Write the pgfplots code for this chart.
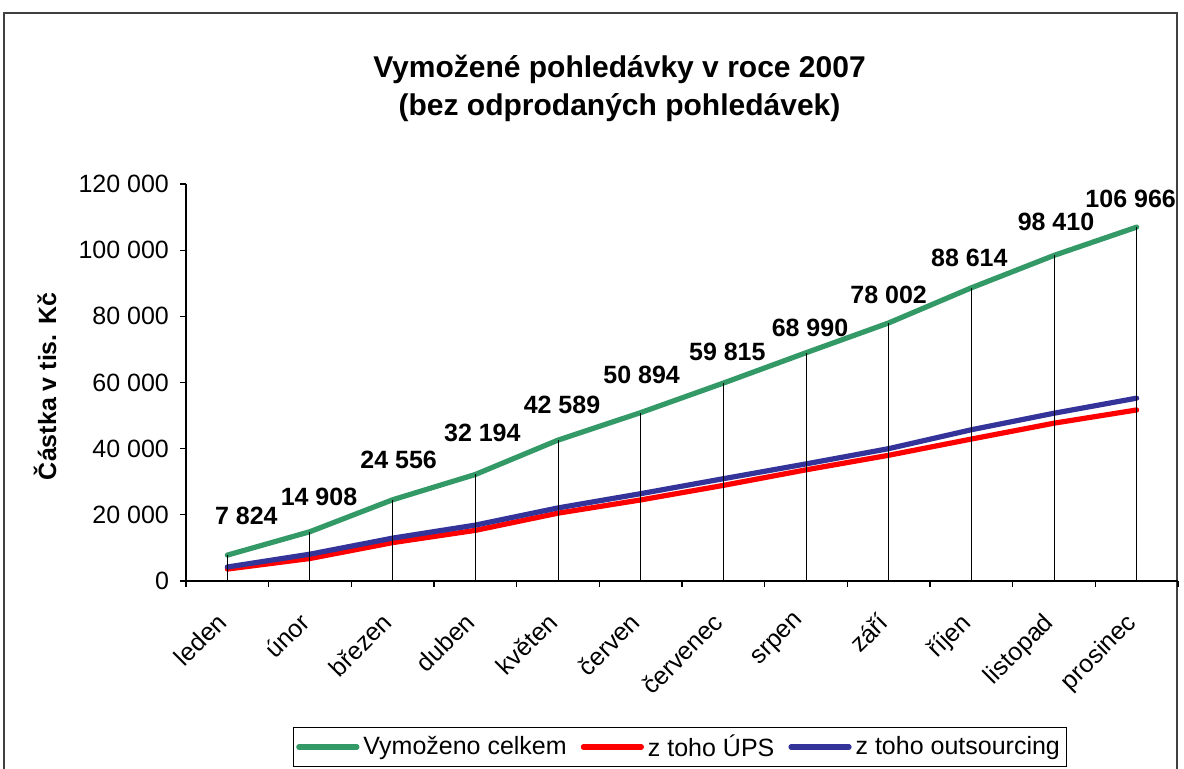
\documentclass[border=0pt]{standalone}
\usepackage{fontspec}
\setmainfont{Liberation Sans}
\usepackage{pgfplots}
\usepackage{pgfplotstable}
\pgfplotsset{compat=1.18}
\definecolor{cgreen}{RGB}{51,153,102}
\definecolor{cred}{RGB}{255,0,0}
\definecolor{cblue}{RGB}{51,51,153}
\pgfplotstableread{
x green red blue dx dy
0 7824 3600 4224 9.5 19.5
1 14908 6800 8108 4.5 17.5
2 24556 11600 12956 3 20
3 32194 15300 16894 3.5 21
4 42589 20500 22089 2 17.5
5 50894 24500 26394 0.5 19
6 59815 28900 30915 2 15.5
7 68990 33600 35390 2 12.5
8 78002 38000 40002 0 14
9 88614 42900 45714 -1 15
10 98410 47700 50710 1 17
11 106966 51700 55266 -3 14
}\data
\begin{document}
\begin{tikzpicture}
\clip (-93pt,-94pt) rectangle (499pt,290.5pt);
\draw[line width=0.9pt, black!75] (-91pt,-120pt) -- (-91pt,284pt) -- (495.5pt,284pt) -- (495.5pt,-120pt);
\begin{axis}[
  at={(0,0)}, anchor=south west,
  scale only axis, width=496pt, height=198.5pt,
  xmin=-0.5, xmax=11.5, ymin=0, ymax=120000,
  clip=false,
  axis lines*=left, axis line style={-, black, line width=0.6pt},
  tick align=outside, major tick length=3pt,
  tick style={black, line width=0.6pt},
  xtick={-0.5,0.5,...,11.5},
  x tick label as interval,
  xticklabels={leden,únor,březen,duben,květen,červen,červenec,srpen,září,říjen,listopad,prosinec},
  xticklabel style={xshift=-6pt, yshift=-10.5pt, rotate=45, anchor=north east, font=\fontsize{12.5}{14}\selectfont, inner sep=1pt},
  ytick={0,20000,...,120000},
  scaled y ticks=false,
  yticklabel style={font=\fontsize{12.5}{14}\selectfont, xshift=-2pt},
  /pgf/number format/.cd, 1000 sep={\ }, assume math mode=true, fixed, precision=0,
  /pgfplots/.cd,
  title={Vymožené pohledávky v roce 2007\\(bez odprodaných pohledávek)},
  title style={at={(axis description cs:0.437,1.211)}, anchor=center, align=center, font=\bfseries\fontsize{15}{19}\selectfont},
  ylabel={Částka v tis. Kč},
  ylabel style={at={(axis description cs:-0.142,0.49)}, anchor=center, font=\bfseries\fontsize{12.5}{14}\selectfont},
  legend style={at={(axis description cs:0.1076,-0.368)}, anchor=north west, legend columns=3, draw=black, line width=0.5pt, font=\fontsize{12.5}{14}\selectfont, inner sep=1.5pt, /tikz/every even column/.append style={column sep=5pt}},
  legend image code/.code={\draw[#1] (0pt,0pt) -- (29pt,0pt);},
  legend cell align=left,
]
\addplot[cgreen, line width=2.6pt, line cap=round, line join=round,
  nodes near coords, point meta=explicit,
  visualization depends on={\thisrow{dx} \as \mydx},
  visualization depends on={\thisrow{dy} \as \mydy},
  every node near coord/.append style={anchor=center, black, font=\bfseries\fontsize{12.5}{14}\selectfont, xshift=\mydx pt, yshift=\mydy pt},
] table[x=x, y=green, meta=green] {\data};
\addlegendentry{Vymoženo celkem}
\addplot[cred, line width=2.6pt, line cap=round, line join=round] table[x=x, y=red] {\data};
\addlegendentry{z toho ÚPS}
\addplot[cblue, line width=2.6pt, line cap=round, line join=round] table[x=x, y=blue] {\data};
\addlegendentry{z toho outsourcing}
\addplot[ycomb, black, line width=0.5pt, forget plot] table[x=x, y=green] {\data};
\end{axis}
\end{tikzpicture}
\end{document}
